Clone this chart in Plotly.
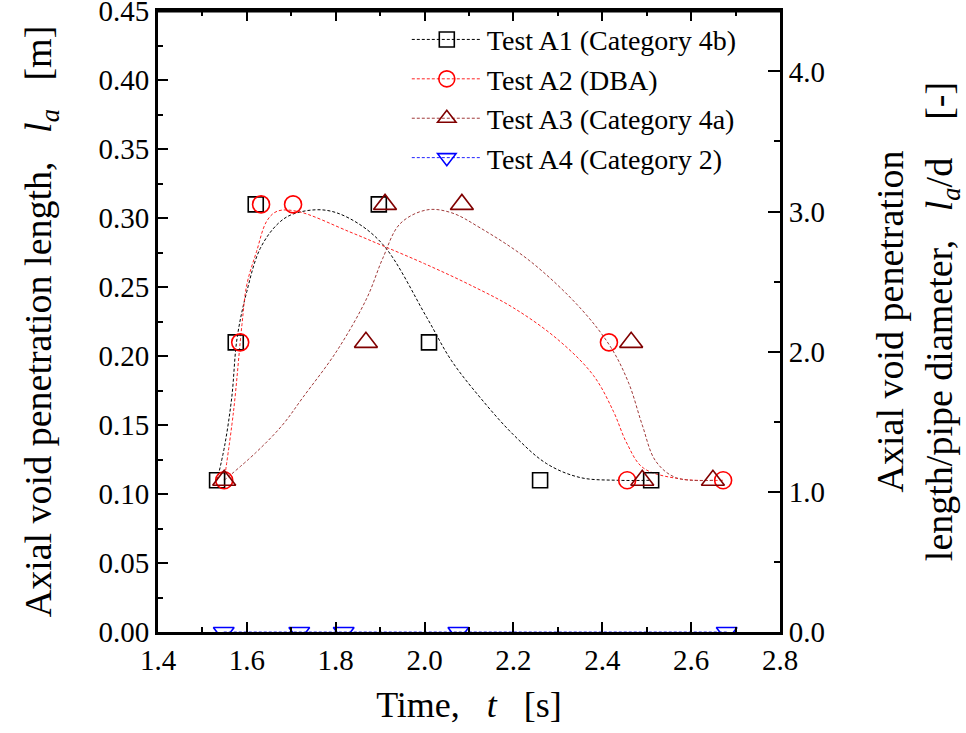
import plotly.graph_objects as go

# ---------------- data ----------------
# measured points
a1_t = [1.533, 1.575, 1.620, 1.897, 2.010, 2.260, 2.510]
a1_l = [0.11, 0.21, 0.31, 0.31, 0.21, 0.11, 0.11]
a2_t = [1.549, 1.585, 1.632, 1.704, 2.415, 2.456, 2.672]
a2_l = [0.11, 0.21, 0.31, 0.31, 0.21, 0.11, 0.11]
a3_t = [1.549, 1.868, 1.911, 2.084, 2.465, 2.490, 2.649]
a3_l = [0.11, 0.21, 0.31, 0.31, 0.21, 0.11, 0.11]
a4_t = [1.548, 1.718, 1.818, 2.076, 2.680]
a4_l = [0.0, 0.0, 0.0, 0.0, 0.0]

# fitted trend curves
a1_fit_t = [1.533, 1.550, 1.566, 1.578, 1.600, 1.630, 1.670, 1.704, 1.771, 1.830, 1.906, 2.005, 2.060, 2.125, 2.200, 2.275, 2.350, 2.433, 2.510]
a1_fit_l = [0.110, 0.135, 0.170, 0.213, 0.247, 0.278, 0.296, 0.303, 0.306, 0.300, 0.281, 0.228, 0.197, 0.170, 0.143, 0.122, 0.112, 0.110, 0.110]
a2_fit_t = [1.549, 1.570, 1.589, 1.600, 1.622, 1.645, 1.668, 1.713, 1.832, 1.906, 2.000, 2.100, 2.200, 2.300, 2.380, 2.425, 2.455, 2.492, 2.575, 2.672]
a2_fit_l = [0.110, 0.160, 0.223, 0.252, 0.276, 0.298, 0.305, 0.305, 0.290, 0.280, 0.267, 0.252, 0.235, 0.212, 0.186, 0.160, 0.137, 0.119, 0.111, 0.110]
a3_fit_t = [1.549, 1.620, 1.680, 1.726, 1.803, 1.870, 1.906, 1.945, 2.005, 2.060, 2.125, 2.237, 2.350, 2.420, 2.460, 2.490, 2.520, 2.565, 2.649]
a3_fit_l = [0.110, 0.130, 0.150, 0.170, 0.204, 0.242, 0.271, 0.296, 0.306, 0.304, 0.293, 0.269, 0.235, 0.206, 0.180, 0.150, 0.124, 0.112, 0.110]
a4_fit_t = [1.548, 2.680]
a4_fit_l = [0.0, 0.0]

names = ["Test A1 (Category 4b)", "Test A2 (DBA)", "Test A3 (Category 4a)", "Test A4 (Category 2)"]
pipe_d = 0.1016
x_ticks = [1.4, 1.6, 1.8, 2.0, 2.2, 2.4, 2.6, 2.8]
y_ticks = [0.00, 0.05, 0.10, 0.15, 0.20, 0.25, 0.30, 0.35, 0.40, 0.45]
y2_ticks = [0.0, 1.0, 2.0, 3.0, 4.0]

# ---------------- styling ----------------
FONT = "Liberation Serif"
colors = ["#000000", "#ff0000", "#800000", "#0000ff"]
line_colors = ["#000000", "#ff2020", "#a03a3a", "#2020ff"]
symbols = ["square-open", "circle-open", "triangle-up-open", "triangle-down-open"]
sizes = [15, 17, 20, 18]

series = [(a1_t, a1_l, a1_fit_t, a1_fit_l),
          (a2_t, a2_l, a2_fit_t, a2_fit_l),
          (a3_t, a3_l, a3_fit_t, a3_fit_l),
          (a4_t, a4_l, a4_fit_t, a4_fit_l)]

fig = go.Figure()
for i, (t, l, ft, fl) in enumerate(series):
    fig.add_trace(go.Scatter(x=ft, y=fl, mode="lines", showlegend=False, hoverinfo="skip",
                             line=dict(color=line_colors[i], width=1, dash="3px,2px", shape="spline", smoothing=1.0)))
for i, (t, l, ft, fl) in enumerate(series):
    fig.add_trace(go.Scatter(x=t, y=l, mode="markers", showlegend=False,
                             marker=dict(symbol=symbols[i], size=sizes[i], color=colors[i],
                                         line=dict(color=colors[i], width=1.6))))
for i in range(4):
    fig.add_trace(go.Scatter(x=[None], y=[None], mode="lines+markers", name=names[i],
                             line=dict(color=line_colors[i], width=1, dash="3px,2px"),
                             marker=dict(symbol=symbols[i], size=sizes[i], color=colors[i],
                                         line=dict(color=colors[i], width=1.6))))
# invisible trace to activate right axis
fig.add_trace(go.Scatter(x=[a1_t[0]], y=[a1_l[0] / pipe_d], yaxis="y2", mode="markers",
                         marker=dict(opacity=0), showlegend=False, hoverinfo="skip"))

nb = "\u00a0"
tickfont = dict(family=FONT, size=29, color="black")
vtitlefont = dict(family=FONT, size=38, color="black")
fig.update_layout(
    width=966, height=733,
    margin=dict(l=158, r=186, t=11, b=101, autoexpand=False),
    paper_bgcolor="white", plot_bgcolor="white",
    font=dict(family=FONT, size=30, color="black"),
    showlegend=True,
    legend=dict(x=0.40, y=0.994, xanchor="left", yanchor="top", bgcolor="rgba(0,0,0,0)",
                font=dict(family=FONT, size=28, color="black"), itemwidth=70, tracegroupgap=0),
    xaxis=dict(range=[1.4, 2.8], tickvals=x_ticks, ticktext=[f"{v:.1f}" for v in x_ticks],
               tickfont=tickfont, automargin=False,
               ticks="inside", ticklen=10, tickwidth=2, tickcolor="black",
               minor=dict(dtick=0.1, ticks="inside", ticklen=5, tickwidth=2, tickcolor="black"),
               showline=True, linewidth=3, linecolor="black", mirror="ticks",
               showgrid=False, zeroline=False,
               title=dict(text=f"Time,{nb}{nb}{nb}<i>t</i>{nb}{nb}{nb}[s]",
                          font=dict(family=FONT, size=36, color="black"), standoff=18)),
    yaxis=dict(range=[0, 0.4502], tickvals=y_ticks, ticktext=[f"{v:.2f}" for v in y_ticks],
               tickfont=tickfont, ticklabeloverflow="allow", automargin=False,
               ticks="inside", ticklen=10, tickwidth=2, tickcolor="black",
               minor=dict(dtick=0.025, ticks="inside", ticklen=5, tickwidth=2, tickcolor="black"),
               showline=True, linewidth=3, linecolor="black",
               showgrid=False, zeroline=False,
               title=dict(text=f"Axial void penetration length,{nb}{nb}{nb}<i>l</i><sub><i>a</i></sub>{nb}{nb}{nb}[m]",
                          font=vtitlefont, standoff=36)),
    yaxis2=dict(range=[0, 0.4502 / pipe_d], tickvals=y2_ticks, ticktext=[f"{v:.1f}" for v in y2_ticks],
                tickfont=tickfont, ticklabeloverflow="allow", overlaying="y", side="right", automargin=False,
                ticks="inside", ticklen=12, tickwidth=2, tickcolor="black",
                minor=dict(dtick=0.5, ticks="inside", ticklen=6, tickwidth=2, tickcolor="black"),
                showline=True, linewidth=3, linecolor="black",
                showgrid=False, zeroline=False,
                title=dict(text=f"Axial void penetration<br>length/pipe diameter,{nb}{nb}{nb}<i>l</i><sub><i>a</i></sub>/d{nb}{nb}{nb}{nb}[-]",
                           font=vtitlefont, standoff=64)),
    shapes=[dict(type="line", xref="paper", yref="paper", x0=0, x1=1, y0=1, y1=1,
                 line=dict(color="black", width=3))],
)

fig.write_html("out.html")
